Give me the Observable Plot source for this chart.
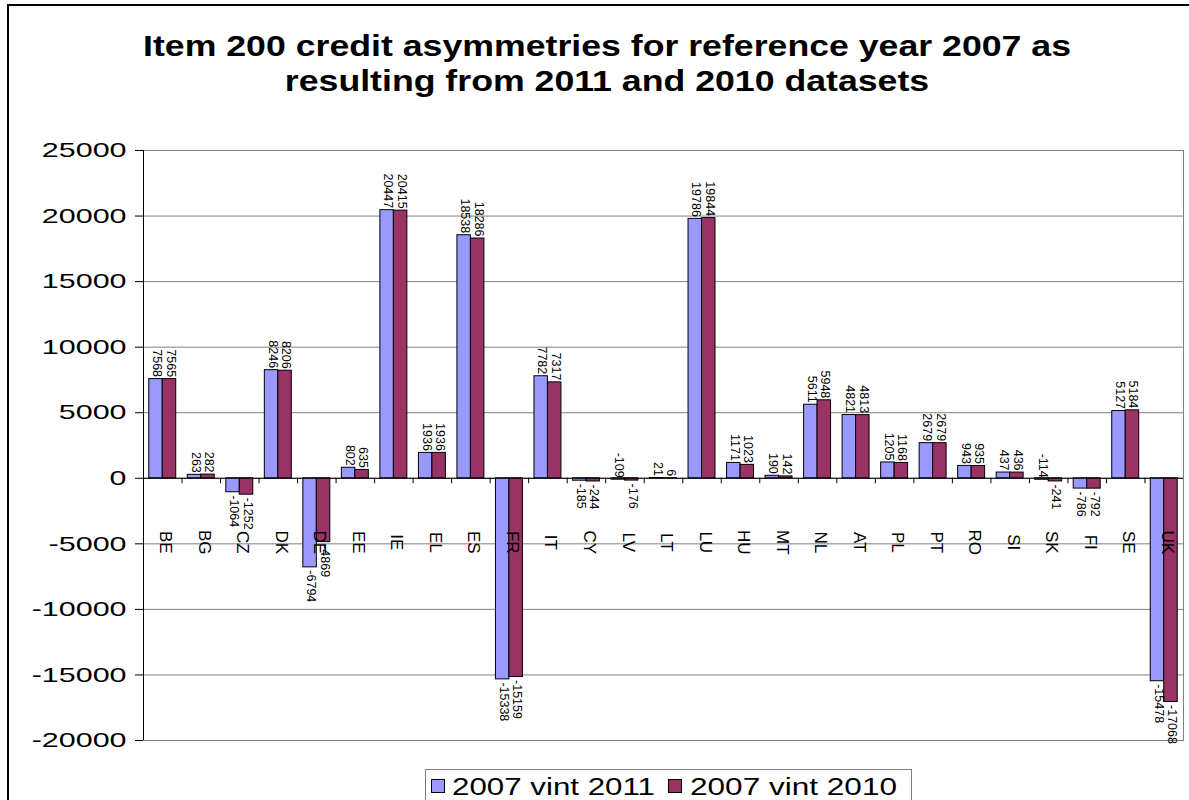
<!DOCTYPE html>
<html><head><meta charset="utf-8">
<script src="https://cdn.jsdelivr.net/npm/d3@7"></script>
<script src="https://cdn.jsdelivr.net/npm/@observablehq/plot@0.6"></script>
<style>
html,body{margin:0;padding:0;background:#fff;}
#wrap{position:relative;width:1189px;height:800px;overflow:hidden;font-family:"Liberation Sans",Arial,sans-serif;background:#fff;}
#border{position:absolute;left:7px;top:4px;width:1400px;height:1200px;border:2px solid #000;box-sizing:border-box;}
#title{position:absolute;left:9px;width:1196px;top:29px;text-align:center;font-weight:bold;font-size:29px;line-height:35px;color:#000;}
#title span{display:block;transform:scaleX(1.23);transform-origin:center;}
#chart{position:absolute;left:0;top:0;}
#legend{position:absolute;left:425px;top:769px;overflow:visible;}
</style></head>
<body><div id="wrap"><div id="border"></div>
<div id="title"><span>Item 200 credit asymmetries for reference year 2007 as</span><span>resulting from 2011 and 2010 datasets</span></div>
<div id="chart"></div><svg id="legend" width="500" height="40"></svg></div>
<script>
const countries = ["BE","BG","CZ","DK","DE","EE","IE","EL","ES","FR","IT","CY","LV","LT","LU","HU","MT","NL","AT","PL","PT","RO","SI","SK","FI","SE","UK"];
const vint2011 = [7568,263,-1064,8246,-6794,802,20447,1936,18538,-15338,7782,-185,-109,21,19786,1171,190,5611,4821,1205,2679,943,437,-114,-786,5127,-15478];
const vint2010 = [7565,282,-1252,8206,-4869,635,20415,1936,18286,-15159,7317,-244,-176,6,19844,1023,142,5948,4813,1168,2679,935,436,-241,-792,5184,-17068];
const seriesNames = ["2007 vint 2011","2007 vint 2010"];
const seriesColors = ["#9999FF","#993366"];
const yTicks = [-20000,-15000,-10000,-5000,0,5000,10000,15000,20000,25000];
const yDomain = [-20000,25000];

const rows = countries.map((c,i)=>({country:c, v2011:vint2011[i], v2010:vint2010[i]}));
const W=1189,H=800,mL=143,mR=6,mT=150,mB=60;
const step=(W-mL-mR)/countries.length;
const half=step*0.7/2;
const FONT='"Liberation Sans",Arial,sans-serif';

const isAbove = v => v > -150;
const lab = (key, off, above) => Plot.text(rows.filter(r => above ? isAbove(r[key]) : !isAbove(r[key])), {
  x:"country", y:key, text:d=>String(d[key]), rotate:90,
  textAnchor: above ? "end" : "start", dx: off, dy: above ? -2 : 3,
  fontSize:12.5, fill:"#000"
});

const plot = Plot.plot({
  width:W, height:H, marginLeft:mL, marginRight:mR, marginTop:mT, marginBottom:mB,
  style:{fontFamily:FONT, background:"transparent", overflow:"visible", color:"#000"},
  x:{domain:countries, paddingInner:0.3, paddingOuter:0.15, round:false, axis:null},
  y:{domain:yDomain, axis:null},
  marks:[
    Plot.ruleY(yTicks,{stroke:"#808080", strokeWidth:1}),
    Plot.frame({stroke:"#808080"}),
    Plot.barY(rows,{x:"country", y:"v2011", fill:seriesColors[0], stroke:"#000", strokeWidth:1, insetRight:half}),
    Plot.barY(rows,{x:"country", y:"v2010", fill:seriesColors[1], stroke:"#000", strokeWidth:1, insetLeft:half}),
    Plot.ruleY([0],{stroke:"#000", strokeWidth:1}),
    Plot.ruleX(countries.slice(0,1),{x:d=>d, dx:-step/2, stroke:"#000", strokeWidth:1}),
    Plot.ruleX(countries,{x:d=>d, dx:-step/2, y1:0, y2:-420, stroke:"#000", strokeWidth:1}),
    Plot.axisY(yTicks,{tickSize:8, tickPadding:9, tickFormat:d=>String(d), fontSize:21, label:null, stroke:"#000"}),
    Plot.text(countries,{x:d=>d, y:0, text:d=>d, rotate:90, textAnchor:"middle", dy:64, dx:3, fontSize:17, fill:"#000"}),
    lab("v2011", -half/2+1, true), lab("v2011", -half/2+1, false),
    lab("v2010", half/2+1, true), lab("v2010", half/2+1, false)
  ]
});
document.getElementById("chart").appendChild(plot);

// widen the y tick labels like the source rendering
d3.select(plot).selectAll('g[aria-label="y-axis tick label"] text').each(function(){
  const L=this.getComputedTextLength();
  this.setAttribute("textLength", (L*1.45).toFixed(1));
  this.setAttribute("lengthAdjust","spacingAndGlyphs");
});

// legend
const lg = d3.select("#legend");
lg.append("rect").attr("x",0.5).attr("y",0.5).attr("width",486).attr("height",60).attr("fill","#fff").attr("stroke","#808080");
const items=[{x:6,tx:27,len:203},{x:243,tx:265,len:207}];
seriesNames.forEach((n,i)=>{
  lg.append("rect").attr("x",items[i].x+0.5).attr("y",10.5).attr("width",13).attr("height",13).attr("fill",seriesColors[i]).attr("stroke","#000");
  lg.append("text").attr("x",items[i].tx).attr("y",26).attr("font-family",FONT).attr("font-size",23)
    .attr("textLength",items[i].len).attr("lengthAdjust","spacingAndGlyphs").text(n);
});
</script>
</body></html>
